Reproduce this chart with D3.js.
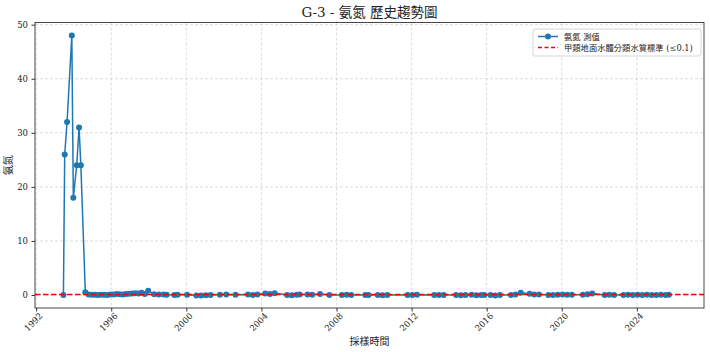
<!DOCTYPE html>
<html><head><meta charset="utf-8">
<script src="https://cdn.jsdelivr.net/npm/d3@7"></script>
<style>
body{margin:0;background:#fff;}
svg{display:block;}
text{font-family:"DejaVu Serif","Noto Sans CJK TC",serif;fill:#222;}
</style></head>
<body><svg id="c" width="710" height="352"></svg>
<script>
const title = "G-3 - 氨氮 歷史趨勢圖";
const xLabel = "採樣時間";
const yLabel = "氨氮";
const seriesName = "氨氮 測值";
const stdName = "甲類地面水體分類水質標準 (≤0.1)";
const stdValue = 0.1;
const xTickYears = [1992,1996,2000,2004,2008,2012,2016,2020,2024];
const yTicks = [0,10,20,30,40,50];
const dates = [
"1993-06-15","1993-07-10","1993-08-25","1993-11-25","1993-12-25","1994-03-01","1994-04-15","1994-05-20","1994-08-15",
"1994-10-15","1994-12-15","1995-02-15","1995-04-15","1995-06-15","1995-08-15","1995-10-15","1995-12-15","1996-02-15","1996-04-15","1996-06-15","1996-08-15","1996-10-15","1996-12-15","1997-02-15","1997-04-15","1997-06-15","1997-08-15","1997-10-15","1997-12-20",
"1998-04-15","1998-07-15","1998-10-15","1998-12-15",
"1999-05-15","1999-07-15",
"2000-01-15",
"2000-07-15","2000-10-15","2001-01-15","2001-04-15",
"2001-10-15","2002-02-15",
"2002-08-15",
"2003-04-15","2003-07-15","2003-10-15",
"2004-03-15","2004-06-15","2004-09-15",
"2005-05-15","2005-08-15","2005-11-15","2006-01-15",
"2006-06-15","2006-09-15",
"2007-02-15",
"2007-08-15",
"2008-04-15","2008-07-15","2008-10-15",
"2009-07-15","2009-09-15",
"2010-03-15","2010-06-15","2010-09-15",
"2011-10-15","2012-01-15","2012-04-15",
"2013-03-15","2013-06-15","2013-09-15",
"2014-05-15","2014-08-15","2014-11-15","2015-03-15","2015-06-15","2015-09-15","2015-11-15",
"2016-03-15","2016-06-15","2016-09-15",
"2017-04-15","2017-07-15","2017-10-25",
"2018-04-15","2018-07-15","2018-10-15",
"2019-04-15","2019-07-15","2019-10-15","2020-01-15","2020-04-15","2020-07-15",
"2021-02-15","2021-05-15","2021-08-15",
"2022-04-15","2022-07-15","2022-10-15",
"2023-04-15","2023-07-15","2023-10-15","2024-01-15","2024-04-15","2024-07-15","2024-10-15","2025-01-15","2025-04-15","2025-07-15","2025-09-15"
];
const values = [
0.0,26,32,48,18,24,31,24,0.5,
0.1,0.05,0.05,0.0,0.05,0.05,0.0,0.1,0.1,0.2,0.15,0.1,0.2,0.25,0.3,0.35,0.3,0.4,0.2,0.8,
0.15,0.1,0.1,0.05,
0.0,0.05,
0.05,
-0.1,-0.1,-0.05,0.0,
0.05,0.1,
0.05,
0.1,0.0,0.1,
0.3,0.2,0.35,
0.0,-0.05,0.05,0.1,
0.1,0.05,
0.2,
0.0,
0.0,0.05,0.0,
0.0,0.0,
0.0,-0.05,0.0,
0.0,0.0,0.05,
0.0,0.0,0.0,
0.0,-0.05,0.0,0.05,-0.05,0.0,0.0,
0.0,-0.1,0.0,
0.0,0.1,0.4,
0.25,0.1,0.1,
0.0,0.0,0.05,0.1,0.05,0.05,
0.05,0.15,0.3,
0.0,0.05,0.0,
0.0,0.05,0.0,0.05,0.0,0.05,0.0,0.0,0.05,0.0,0.05
];

const parse = d3.timeParse("%Y-%m-%d");
const data = dates.map((d,i)=>({t:parse(d), v:values[i]}));

const L=35, R=704, T=22.5, B=308;
const svg = d3.select("#c");
const x = d3.scaleTime().domain([new Date(1991,11,10), new Date(2027,6,30)]).range([L,R]);
const y = d3.scaleLinear().domain([-2.4,50.4]).range([B,T]);
const blue = "#1f77b4";

// grid
const g = svg.append("g");
xTickYears.forEach(yr=>{
  g.append("line").attr("x1",x(new Date(yr,0,1))).attr("x2",x(new Date(yr,0,1)))
   .attr("y1",T).attr("y2",B).attr("stroke","#b0b0b0").attr("stroke-opacity",0.55)
   .attr("stroke-width",0.8).attr("stroke-dasharray","3,2");
});
yTicks.forEach(v=>{
  g.append("line").attr("x1",L).attr("x2",R).attr("y1",y(v)).attr("y2",y(v))
   .attr("stroke","#b0b0b0").attr("stroke-opacity",0.55)
   .attr("stroke-width",0.8).attr("stroke-dasharray","3,2");
});

// series
svg.append("path").datum(data)
  .attr("d", d3.line().x(d=>x(d.t)).y(d=>y(d.v)))
  .attr("fill","none").attr("stroke",blue).attr("stroke-width",1.5);
svg.append("g").selectAll("circle").data(data).join("circle")
  .attr("cx",d=>x(d.t)).attr("cy",d=>y(d.v)).attr("r",3).attr("fill",blue);

// standard line
svg.append("line").attr("x1",L).attr("x2",R).attr("y1",y(stdValue)).attr("y2",y(stdValue))
  .attr("stroke","#ff0000").attr("stroke-width",1.5).attr("stroke-dasharray","5.5,2.5");

// frame
svg.append("rect").attr("x",L).attr("y",T).attr("width",R-L).attr("height",B-T)
  .attr("fill","none").attr("stroke","#333").attr("stroke-width",0.9);

// axes
const xa = svg.append("g").attr("transform",`translate(0,${B})`)
  .call(d3.axisBottom(x).tickValues(xTickYears.map(yr=>new Date(yr,0,1))).tickFormat(d3.timeFormat("%Y")).tickSize(3.5).tickSizeOuter(0));
xa.select(".domain").remove();
xa.selectAll("text").attr("font-size","8.5px").attr("text-anchor","end")
  .attr("dy",null).attr("y",0).attr("transform","translate(2,4) rotate(-45)").attr("dominant-baseline","hanging");
const ya = svg.append("g").attr("transform",`translate(${L},0)`)
  .call(d3.axisLeft(y).tickValues(yTicks).tickSize(3.5).tickSizeOuter(0).tickPadding(3.5));
ya.select(".domain").remove();
ya.selectAll("text").attr("font-size","8.5px");
svg.selectAll(".tick line").attr("stroke","#333");
svg.selectAll(".tick text").attr("font-family","'DejaVu Serif',serif").attr("fill","#222");

// labels
svg.append("text").attr("x",(L+R)/2).attr("y",17).attr("text-anchor","middle")
  .attr("font-size","13.5px").text(title);
svg.append("text").attr("x",(L+R)/2).attr("y",345).attr("text-anchor","middle")
  .attr("font-size","10px").text(xLabel);
svg.append("text").attr("transform",`translate(12,${(T+B)/2}) rotate(-90)`).attr("text-anchor","middle")
  .attr("font-size","10px").text(yLabel);

// legend
const lg = svg.append("g");
lg.append("rect").attr("x",533).attr("y",29).attr("width",168).attr("height",27).attr("rx",2)
  .attr("fill","#fff").attr("fill-opacity",0.85).attr("stroke","#ccc").attr("stroke-width",0.8);
lg.append("line").attr("x1",538).attr("x2",558).attr("y1",36.5).attr("y2",36.5).attr("stroke",blue).attr("stroke-width",1.5);
lg.append("circle").attr("cx",548).attr("cy",36.5).attr("r",3).attr("fill",blue);
lg.append("text").attr("x",564).attr("y",39.5).attr("font-size","8.3px").text(seriesName);
lg.append("line").attr("x1",538).attr("x2",558).attr("y1",47.5).attr("y2",47.5).attr("stroke","#ff0000").attr("stroke-width",1.5).attr("stroke-dasharray","4,2.5");
lg.append("text").attr("x",564).attr("y",50.5).attr("font-size","8.3px").text(stdName);
</script></body></html>
